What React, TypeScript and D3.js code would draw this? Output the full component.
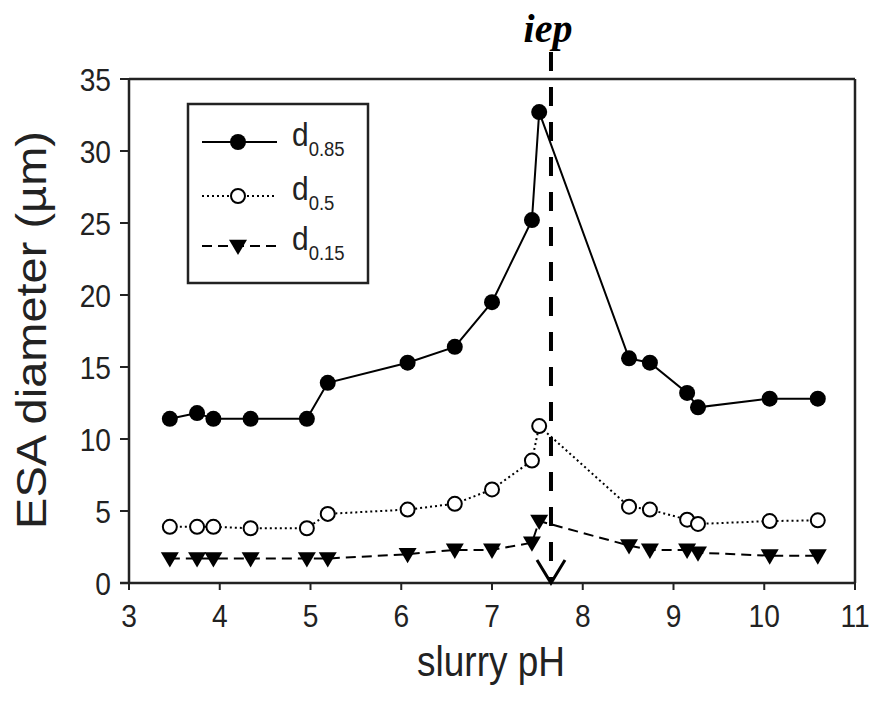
import React from "react";
import * as d3 from "d3";

const pH = [3.45, 3.75, 3.93, 4.34, 4.96, 5.19, 6.07, 6.59, 7.0, 7.44, 7.52, 8.51, 8.74, 9.15, 9.27, 10.06, 10.59];
const d85 = [11.4, 11.8, 11.4, 11.4, 11.4, 13.9, 15.3, 16.4, 19.5, 25.2, 32.7, 15.6, 15.3, 13.2, 12.2, 12.8, 12.8];
const d50 = [3.9, 3.9, 3.9, 3.8, 3.8, 4.8, 5.1, 5.5, 6.5, 8.5, 10.9, 5.3, 5.1, 4.4, 4.1, 4.3, 4.35];
const d15 = [1.7, 1.7, 1.7, 1.7, 1.7, 1.7, 2.0, 2.3, 2.3, 2.8, 4.3, 2.6, 2.3, 2.3, 2.1, 1.9, 1.9];
const xTicks = [3, 4, 5, 6, 7, 8, 9, 10, 11];
const yTicks = [0, 5, 10, 15, 20, 25, 30, 35];
const iepPH = 7.65;
const seriesNames = ["0.85", "0.5", "0.15"];

const FONT = "'Liberation Sans', Arial, sans-serif";
const SX = 0.88;

export default function App() {
  const x = d3.scaleLinear().domain([3, 11]).range([129, 855]);
  const y = d3.scaleLinear().domain([0, 35]).range([583, 79]);
  const line = (vals: number[]) =>
    d3.line<number>().x((_, i) => x(pH[i])).y((v) => y(v))(vals) as string;

  const tri = (cx: number, cy: number, s = 9) =>
    `M${cx - s},${cy - s * 0.7}L${cx + s},${cy - s * 0.7}L${cx},${cy + s}Z`;

  const legendRows = [
    { y: 142, dash: undefined as string | undefined, marker: "fill" },
    { y: 196, dash: "2,3", marker: "open" },
    { y: 246, dash: "10,6", marker: "tri" },
  ];

  const renderMarker = (kind: string, cx: number, cy: number, key: any) => {
    if (kind === "fill") return <circle key={key} cx={cx} cy={cy} r={8} fill="#000" />;
    if (kind === "open")
      return <circle key={key} cx={cx} cy={cy} r={7} fill="#fff" stroke="#000" strokeWidth={2} />;
    return <path key={key} d={tri(cx, cy)} fill="#000" />;
  };

  const iepX = x(iepPH);

  return (
    <svg width={875} height={703} style={{ position: "absolute", left: 0, top: 0, background: "#fff" }}>
      <rect x={0} y={0} width={875} height={703} fill="#fff" />
      {/* frame */}
      <line x1={129} y1={y(35)} x2={855} y2={y(35)} stroke="#222" strokeWidth={2.5} />
      <line x1={855} y1={y(35)} x2={855} y2={583} stroke="#222" strokeWidth={2.5} />
      <line x1={129} y1={79} x2={129} y2={583} stroke="#222" strokeWidth={2.5} />
      <line x1={120} y1={583} x2={855} y2={583} stroke="#222" strokeWidth={2.5} />
      {/* y ticks */}
      {yTicks.map((t) => (
        <g key={"y" + t}>
          <line x1={120} x2={129} y1={y(t)} y2={y(t)} stroke="#222" strokeWidth={2} />
          <g transform={`translate(111,${y(t)}) scale(${SX},1)`}>
            <text dy="0.36em" textAnchor="end" fontFamily={FONT} fontSize={32} fill="#222">
              {t}
            </text>
          </g>
        </g>
      ))}
      {xTicks.map((t) => (
        <g key={"x" + t}>
          <line x1={x(t)} x2={x(t)} y1={583} y2={590} stroke="#222" strokeWidth={2} />
          <g transform={`translate(${x(t)},627) scale(${SX},1)`}>
            <text textAnchor="middle" fontFamily={FONT} fontSize={32} fill="#222">
              {t}
            </text>
          </g>
        </g>
      ))}
      <g transform="translate(491,676) scale(0.88,1)">
        <text textAnchor="middle" fontFamily={FONT} fontSize={42} fill="#222">
          slurry pH
        </text>
      </g>
      <g transform="translate(46,330) scale(0.9,1) rotate(-90)">
        <text textAnchor="middle" fontFamily={FONT} fontSize={47} fill="#222">
          ESA diameter (µm)
        </text>
      </g>

      {/* series lines */}
      <path d={line(d85)} fill="none" stroke="#000" strokeWidth={2} />
      <path d={line(d50)} fill="none" stroke="#000" strokeWidth={2} strokeDasharray="2,3" />
      <path d={line(d15)} fill="none" stroke="#000" strokeWidth={2} strokeDasharray="10,6" />

      {/* iep line */}
      <line x1={iepX} x2={iepX} y1={52} y2={581} stroke="#000" strokeWidth={4} strokeDasharray="19,16" />
      <path
        d={`M${iepX - 14},${560}L${iepX},${583}L${iepX + 14},${560}`}
        fill="none"
        stroke="#000"
        strokeWidth={3}
      />
      <text
        x={iepX - 3}
        y={42}
        textAnchor="middle"
        fontFamily="'Liberation Serif', 'DejaVu Serif', serif"
        fontStyle="italic"
        fontWeight="bold"
        fontSize={40}
        fill="#000"
      >
        iep
      </text>

      {/* markers */}
      {d85.map((v, i) => renderMarker("fill", x(pH[i]), y(v), "a" + i))}
      {d50.map((v, i) => renderMarker("open", x(pH[i]), y(v), "b" + i))}
      {d15.map((v, i) => renderMarker("tri", x(pH[i]), y(v), "c" + i))}

      {/* legend */}
      <rect x={188} y={104} width={180} height={179} fill="#fff" stroke="#222" strokeWidth={2.5} />
      {legendRows.map((r, i) => (
        <g key={"l" + i}>
          <line x1={202} x2={277} y1={r.y} y2={r.y} stroke="#000" strokeWidth={2} strokeDasharray={r.dash} />
          {renderMarker(r.marker, 238, r.y, "lm" + i)}
          <g transform={`translate(292,${r.y + 4}) scale(0.88,1)`}>
            <text fontFamily={FONT} fontSize={34} fill="#222">
              d
              <tspan fontSize={21} dy={10}>
                {seriesNames[i]}
              </tspan>
            </text>
          </g>
        </g>
      ))}
    </svg>
  );
}
